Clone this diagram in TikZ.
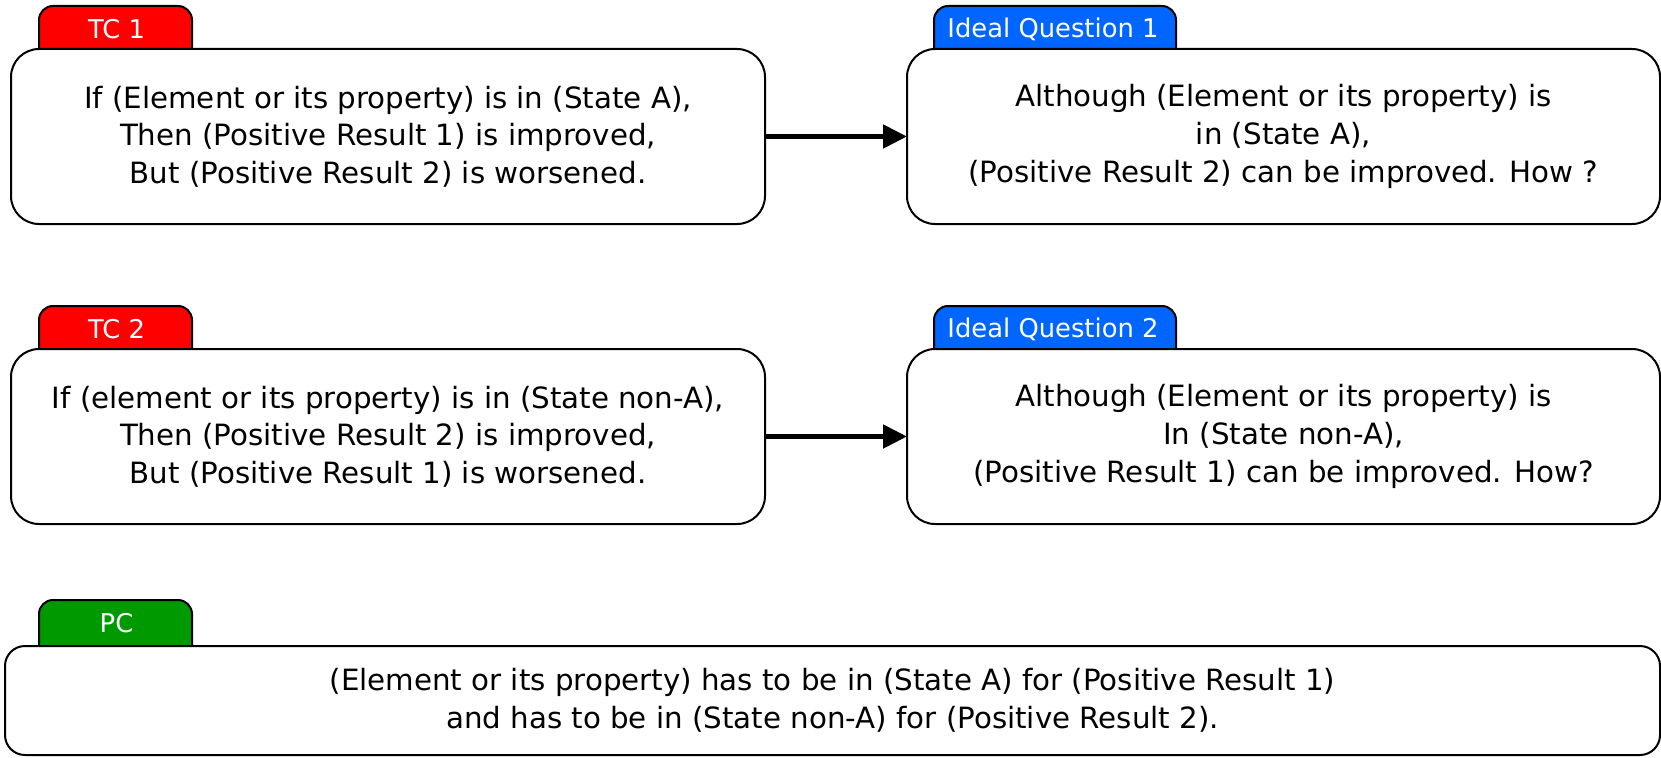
\documentclass[tikz,border=0pt]{standalone}
\usepackage{fontspec}
\setmainfont{DejaVu Sans}
\usetikzlibrary{arrows.meta}
\definecolor{tcred}{RGB}{255,0,0}
\definecolor{iqblue}{RGB}{0,102,255}
\definecolor{pcgreen}{RGB}{0,153,0}
\tikzset{
  box/.style={draw=black, line width=2pt, fill=white, rounded corners=28pt, align=center,
    font=\fontsize{29.3}{37.6}\selectfont, inner sep=0pt},
  tabshape/.style={draw=black, line width=2pt, rounded corners=14pt},
  tabtext/.style={text=white, font=\fontsize{25.8}{32}\selectfont, inner sep=0pt},
  conn/.style={line width=5pt, -{Triangle[length=24pt,width=23pt]}, shorten >=-1pt}
}
\begin{document}
\begin{tikzpicture}[x=1pt,y=-1pt]
\useasboundingbox (0,0) rectangle (1661,757);
% Row 1
\draw[tabshape, fill=tcred] (39,60) -- (39,6) -- (192,6) -- (192,60);
\node[tabtext] (tc1tab) at (116.5,29) {TC 1};
\draw[tabshape, fill=iqblue] (934,60) -- (934,6) -- (1176,6) -- (1176,60);
\node[tabtext] (iq1tab) at (1053,29) {Ideal Question 1};
\node[box, minimum width=754pt, minimum height=175pt] (tc1) at (388,136.5)
  {If (Element or its property) is in (State A),\\Then (Positive Result 1) is improved,\\But (Positive Result 2) is worsened.};
\node[box, minimum width=753pt, minimum height=175pt] (iq1) at (1283.5,136.5)
  {Although (Element or its property) is\\in (State A),\\(Positive Result 2) can be improved. How ?};
\draw[conn] (tc1.east) -- (iq1.west);
% Row 2
\draw[tabshape, fill=tcred] (39,360) -- (39,306) -- (192,306) -- (192,360);
\node[tabtext] (tc2tab) at (116.5,329) {TC 2};
\draw[tabshape, fill=iqblue] (934,360) -- (934,306) -- (1176,306) -- (1176,360);
\node[tabtext] (iq2tab) at (1053,329) {Ideal Question 2};
\node[box, minimum width=754pt, minimum height=175pt] (tc2) at (388,436.5)
  {If (element or its property) is in (State non-A),\\Then (Positive Result 2) is improved,\\But (Positive Result 1) is worsened.};
\node[box, minimum width=753pt, minimum height=175pt] (iq2) at (1283.5,436.5)
  {Although (Element or its property) is\\In (State non-A),\\(Positive Result 1) can be improved. How?};
\draw[conn] (tc2.east) -- (iq2.west);
% PC
\draw[tabshape, fill=pcgreen] (39,660) -- (39,600) -- (192,600) -- (192,660);
\node[tabtext] (pctab) at (116.5,623) {PC};
\node[box, rounded corners=20pt, minimum width=1655pt, minimum height=109pt] (pc) at (832.5,700.5)
  {(Element or its property) has to be in (State A) for (Positive Result 1)\\and has to be in (State non-A) for (Positive Result 2).};
\end{tikzpicture}
\end{document}
